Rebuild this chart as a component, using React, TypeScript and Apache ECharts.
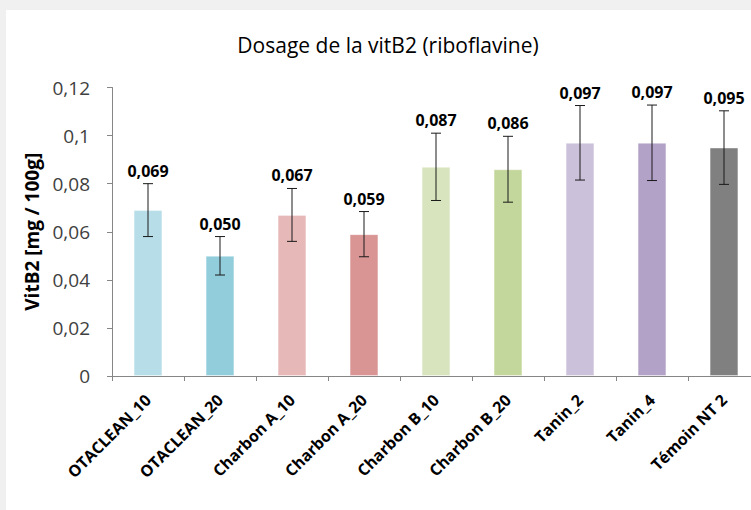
import React, { useEffect, useRef } from "react";
import * as echarts from "echarts";

const categories = [
  "OTACLEAN_10",
  "OTACLEAN_20",
  "Charbon A_10",
  "Charbon A_20",
  "Charbon B_10",
  "Charbon B_20",
  "Tanin_2",
  "Tanin_4",
  "Témoin NT 2",
];
const values = [0.069, 0.05, 0.067, 0.059, 0.087, 0.086, 0.097, 0.097, 0.095];
const errors = [0.011, 0.008, 0.011, 0.0094, 0.014, 0.0137, 0.0155, 0.0157, 0.0153];
const barColors = [
  "#b7dde8",
  "#92cddc",
  "#e6b9b8",
  "#d99594",
  "#d7e4bd",
  "#c3d69b",
  "#ccc1da",
  "#b3a2c7",
  "#808080",
];
const yTicks = { min: 0, max: 0.12, interval: 0.02 };

const FONT = "'Open Sans', 'Liberation Sans', Arial, sans-serif";

export default function App() {
  const ref = useRef<HTMLDivElement>(null);
  useEffect(() => {
    document.body.style.margin = "0";
    if (!ref.current) return;
    const chart = echarts.init(ref.current, null, { renderer: "svg" });
    const fmt = (v: number) => v.toFixed(3).replace(".", ",");
    chart.setOption({
      animation: false,
      backgroundColor: "#ffffff",
      graphic: [
        {
          type: "text",
          x: 382,
          y: 35,
          style: {
            text: "Dosage de la vitB2 (riboflavine)",
            fontSize: 21,
            fontFamily: FONT,
            fill: "#000",
            textAlign: "center",
            textVerticalAlign: "middle",
          },
        },
      ],
      grid: { left: 106, top: 77.5, bottom: 134, right: 16 },
      xAxis: {
        type: "category",
        data: categories,
        axisLine: { lineStyle: { color: "#868686", width: 1 } },
        axisTick: { show: true, length: 5, lineStyle: { color: "#868686" } },
        axisLabel: {
          rotate: 45,
          margin: 21,
          fontSize: 16,
          fontWeight: "bold",
          fontFamily: FONT,
          color: "#000",
          interval: 0,
        },
      },
      yAxis: {
        type: "value",
        min: yTicks.min,
        max: yTicks.max,
        interval: yTicks.interval,
        name: "VitB2 [mg / 100g]",
        nameLocation: "middle",
        nameRotate: 90,
        nameGap: 70,
        nameTextStyle: {
          fontSize: 19,
          fontWeight: "bold",
          fontFamily: FONT,
          color: "#000",
        },
        splitLine: { show: false },
        axisLine: { show: true, lineStyle: { color: "#868686", width: 1 } },
        axisTick: { show: true, length: 5, lineStyle: { color: "#868686" } },
        axisLabel: {
          margin: 22,
          fontSize: 19,
          fontFamily: FONT,
          color: "#404040",
          formatter: (v: number) => String(+v.toFixed(2)).replace(".", ","),
        },
      },
      series: [
        {
          type: "bar",
          barWidth: "40%",
          data: values.map((v, i) => ({
            value: v,
            itemStyle: {
              color: barColors[i],
              borderColor: "rgba(255,255,255,0.35)",
              borderWidth: 1,
            },
          })),
        },
        {
          type: "custom",
          data: values.map((v, i) => [i, v, errors[i]]),
          z: 10,
          renderItem: (params: any, api: any) => {
            const i = api.value(0);
            const v = api.value(1);
            const e = api.value(2);
            const top = api.coord([i, v + e]);
            const bot = api.coord([i, v - e]);
            const x = top[0];
            const cap = 5;
            const ls = { stroke: "#1a1a1a", lineWidth: 1 };
            return {
              type: "group",
              children: [
                { type: "line", shape: { x1: x, y1: top[1], x2: x, y2: bot[1] }, style: ls },
                { type: "line", shape: { x1: x - cap, y1: top[1], x2: x + cap, y2: top[1] }, style: ls },
                { type: "line", shape: { x1: x - cap, y1: bot[1], x2: x + cap, y2: bot[1] }, style: ls },
                {
                  type: "text",
                  x: x,
                  y: top[1] - 5,
                  style: {
                    text: fmt(v),
                    fontSize: 16,
                    fontWeight: "bold",
                    fontFamily: FONT,
                    fill: "#000",
                    textAlign: "center",
                    textVerticalAlign: "bottom",
                  },
                },
              ],
            };
          },
        },
      ],
    });
    return () => chart.dispose();
  }, []);
  return (
    <div
      style={{
        position: "relative",
        width: 751,
        height: 510,
        overflow: "hidden",
        background: "#f0f0f0",
      }}
    >
      <div
        ref={ref}
        style={{ position: "absolute", left: 6, top: 10, width: 770, height: 500 }}
      />
    </div>
  );
}
